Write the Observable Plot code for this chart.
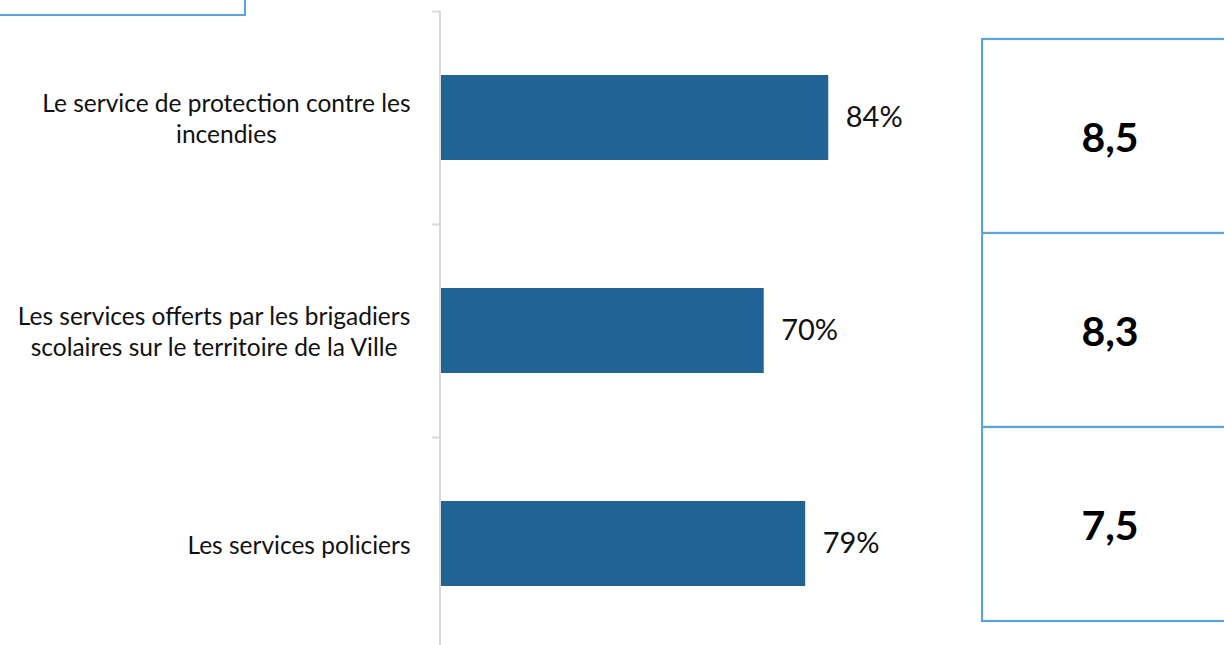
<!DOCTYPE html>
<html>
<head>
<meta charset="utf-8">
<script src="https://cdn.jsdelivr.net/npm/d3@7"></script>
<script src="https://cdn.jsdelivr.net/npm/@observablehq/plot@0.6"></script>
<style>
  html, body { margin: 0; padding: 0; background: #fff; }
  #wrap { position: relative; width: 1224px; height: 645px; overflow: hidden; font-family: Lato, "Open Sans", sans-serif; }
  #corner { position: absolute; left: -10px; top: -50px; width: 252px; height: 62px; border: 2px solid #5ba3dc; }
  #main { position: absolute; left: 0; top: 0; }
  #scores { position: absolute; left: 981px; top: 0; }
</style>
</head>
<body>
<div id="wrap">
  <div id="corner"></div>
  <div id="main"></div>
  <div id="scores"></div>
</div>
<script>
// Data
const categories = [
  "Le service de protection contre les incendies",
  "Les services offerts par les brigadiers scolaires sur le territoire de la Ville",
  "Les services policiers"
];
const labelLines = [
  ["Le service de protection contre les", "incendies"],
  ["Les services offerts par les brigadiers", "scolaires sur le territoire de la Ville"],
  ["Les services policiers"]
];
const satisfaction = [84, 70, 79];   // %
const scores = [8.5, 8.3, 7.5];      // note moyenne /10

const rows = categories.map((c, i) => ({cat: c, pct: satisfaction[i], score: scores[i], lines: labelLines[i]}));

const barColor = "#216394";
const axisGray = "#d9d9d9";
const boxBlue = "#5ba3dc";
const labelFont = 24.5;
const labelGap = 31;

const yRange = [11, 650];
const step = (yRange[1] - yRange[0]) / categories.length;

// measure label block widths so each line is centred inside a right-aligned block
const ctx = document.createElement("canvas").getContext("2d");
ctx.font = `${labelFont}px Lato`;
const blockWidth = lines => Math.max(...lines.map(l => ctx.measureText(l).width));

const labelMarks = rows.map(r => Plot.text([r], {
  frameAnchor: "left",
  y: "cat",
  text: d => d.lines.join("\n"),
  textAnchor: "middle",
  dx: -labelGap - blockWidth(r.lines) / 2,
  fontSize: labelFont,
  lineHeight: 31 / labelFont,
  fill: "#111"
}));

const main = Plot.plot({
  width: 1224,
  height: 645,
  marginLeft: 441,
  marginRight: 322,
  marginTop: 11,
  marginBottom: 0,
  style: {fontFamily: "Lato, 'Open Sans', sans-serif", background: "transparent"},
  x: {domain: [0, 100], axis: null},
  y: {domain: categories, range: yRange, paddingInner: 0.6, paddingOuter: 0.3, axis: null},
  marks: [
    Plot.barX(rows, {x: "pct", y: "cat", fill: barColor}),
    Plot.ruleX([0], {stroke: axisGray, strokeWidth: 2, dx: -1.5}),
    Plot.axisY({tickSize: 8, tickFormat: () => "", stroke: axisGray, strokeWidth: 2, dy: -step / 2, dx: -1, label: null}),
    ...labelMarks,
    Plot.text(rows, {x: "pct", y: "cat", text: d => d.pct + "%", dx: 17, textAnchor: "start", fontSize: 29, fill: "#111"})
  ]
});
document.getElementById("main").appendChild(main);

const side = Plot.plot({
  width: 243,
  height: 645,
  margin: 0,
  style: {fontFamily: "Lato, 'Open Sans', sans-serif", background: "transparent"},
  x: {domain: ["note"], range: [1, 256], padding: 0, axis: null},
  y: {domain: categories, range: [39, 621], padding: 0, axis: null},
  marks: [
    Plot.cell(rows, {x: () => "note", y: "cat", fill: "white", stroke: boxBlue, strokeWidth: 2.2, inset: 0}),
    Plot.text(rows, {x: () => "note", y: "cat", text: d => d.score.toFixed(1).replace(".", ","), fontWeight: "bold", fontSize: 41, fill: "#000", dy: 2})
  ]
});
document.getElementById("scores").appendChild(side);
</script>
</body>
</html>
